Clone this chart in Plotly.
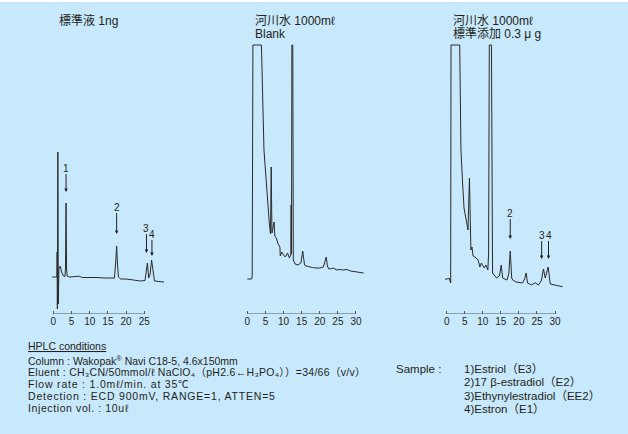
import plotly.graph_objects as go

W, H = 628, 434
BG = "#C8E9FB"
INK = "#231F20"
FONT = "Liberation Sans, Arial, Noto Sans CJK JP, sans-serif"

def wide(s, ls=0.45):
    return '<span style="letter-spacing:%spx">%s</span>' % (ls, s)

# ---- data (retention time [min], detector response [arb.]) ----
std_t = [-0.3, 0.6, 1.0, 1.05, 1.12, 1.25, 1.38, 1.55, 1.9, 2.3, 2.8, 3.2, 3.35, 3.5, 3.65, 3.8,
         4.5, 6, 7, 8, 10, 12, 14, 16, 16.8, 17.2, 17.4, 17.6, 17.9, 18.5, 20, 22, 24, 25.2,
         25.6, 25.85, 26.2, 26.6, 27.0, 27.3, 27.8, 29, 30.4]
std_v = [37, 37.5, 37, 62, 5, 162, 10, 45, 48, 42, 38, 37.5, 45, 111, 45, 38,
         37, 37.5, 37.8, 36.5, 36.8, 36.5, 36, 35.5, 36, 55, 68, 52, 37, 35, 35, 34, 33, 33.5,
         44, 51, 36, 40, 54, 44, 33, 32.5, 32]

blank_t = [0, 1.2, 1.35, 1.45, 1.55, 3.9, 4.6, 5.0, 5.5, 6.1, 6.4, 6.6, 6.8, 7.1, 7.4, 7.6, 8.0,
           8.5, 9.0, 9.1, 9.5, 10.0, 10.5, 11.1, 11.6, 12.0, 12.1, 12.2, 12.3, 12.55, 12.7,
           13.2, 14.0, 14.8, 15.3, 15.8, 16.2, 17, 18, 19, 20, 21.0, 21.5, 21.8, 22.1, 22.5,
           23.3, 24.0, 24.5, 25.5, 26.5, 27.5, 28.5, 30, 31, 32.1]
blank_v = [35, 35, 38, 110, 269, 269, 164, 144, 114, 90, 80, 147, 81, 88, 92, 78, 76,
           70, 67, 58, 62, 59, 57, 61, 56, 59, 109, 60, 269, 269, 54,
           50, 49, 51, 63, 49, 48, 47, 46.5, 46, 46, 47, 52, 57, 48, 45,
           45.5, 46, 44, 44.5, 44, 44.5, 43, 42, 41.5, 41]

spike_t = [-0.45, 0.7, 1.1, 1.2, 3.6, 3.95, 4.4, 4.8, 5.5, 5.9, 6.3, 6.7, 7.0, 7.3, 8.2, 8.7,
           9.2, 9.6, 10.4, 10.9, 11.4, 11.6, 11.8, 12.4, 12.7, 13.8, 14.6, 15.1, 15.5, 16.7,
           17.2, 17.6, 18.0, 18.3, 19.2, 21.0, 21.6, 22.0, 22.4, 23.5, 24.5, 25.4, 26.2, 26.8,
           27.3, 28.1, 28.7, 29.5, 30.5, 32.1]
spike_v = [34.7, 35.5, 31, 269, 269, 164, 131, 106, 92, 84, 136, 64, 67, 58, 56, 54,
           47, 51, 46, 49, 44, 60, 269, 269, 41, 36, 38, 49, 36, 34,
           40, 63, 36, 34, 32, 31, 35, 41, 31, 29, 31.3, 29, 33, 45,
           36, 47, 30, 29, 28.5, 27.3]

std_ticks = [0, 5, 10, 15, 20, 25]
water_ticks = [0, 5, 10, 15, 20, 25, 30]

# peak markers: (label, time, response at arrow tip, label offset px)
std_peaks = [("1", 3.5, 122, -24), ("2", 17.4, 80, -27), ("3", 25.6, 61, -25), ("4", 27.1, 58, -22)]
spike_peaks = [("2", 17.6, 75, -26), ("3", 26.3, 55, -24), ("4", 28.2, 55, -24)]

titles = [("標準液 1ng", None), ("河川水 1000mℓ", "Blank"), ("河川水 1000mℓ", "標準添加 0.3 μ g")]

conditions = [
    "Column : Wakopak<sup>®</sup> Navi C18-5, 4.6x150mm",
    wide("Eluent : CH₃CN/50mmol/ℓ NaClO₄（pH2.6←H₃PO₄））=34/66（v/v）", 0.3),
    wide("Flow rate : 1.0mℓ/min. at 35℃", 0.8),
    wide("Detection : ECD 900mV, RANGE=1, ATTEN=5", 0.8),
    wide("Injection vol. : 10uℓ", 0.6),
]
samples = ["1)Estriol（E3）", "2)17 β-estradiol（E2）", "3)Ethynylestradiol（EE2）", "4)Estron（E1）"]

# ---- layout helpers ----
def fx(p):
    return p / W

def fy(p):
    return 1 - p / H

Y_BOTTOM, Y_TOP = 314, 44
panels = [
    # (x pixel of t=0, px per min, domain left px, domain right px, ticks, title x px)
    (53.3, 3.64, 45, 175, std_ticks, 57),
    (247.3, 3.623, 240, 370, water_ticks, 253),
    (446.7, 3.61, 438, 568, water_ticks, 451),
]
series = [(std_t, std_v), (blank_t, blank_v), (spike_t, spike_v)]

fig = go.Figure()
layout = dict(
    width=W, height=H, margin=dict(l=0, r=0, t=0, b=0),
    paper_bgcolor=BG, plot_bgcolor="rgba(0,0,0,0)", showlegend=False,
    font=dict(family=FONT, color=INK),
)
shapes = [dict(type="rect", xref="paper", yref="paper", x0=0, x1=1, y0=fy(2), y1=1,
               fillcolor="white", line=dict(width=0), layer="below")]
annotations = []

def txt(text, x, y, size):
    annotations.append(dict(text=text, x=fx(x), y=fy(y), xref="paper", yref="paper",
                            xanchor="left", yanchor="middle", showarrow=False,
                            font=dict(size=size, color=INK, family=FONT)))

for i, ((x0, ppm, dl, dr, ticks, tx), (t, v), (t1, t2)) in enumerate(zip(panels, series, titles)):
    n = "" if i == 0 else str(i + 1)
    xa, ya = "x" + n, "y" + n
    fig.add_trace(go.Scatter(x=t, y=v, mode="lines", xaxis=xa, yaxis=ya,
                             line=dict(color="#2a2a2a", width=1), hoverinfo="skip"))
    layout["xaxis" + n] = dict(
        domain=[fx(dl), fx(dr)], range=[(dl - x0) / ppm, (dr - x0) / ppm],
        anchor=ya, showgrid=False, zeroline=False, showline=False,
        tickvals=ticks, ticks="inside", ticklen=3, tickcolor="#555", tickwidth=1,
        tickfont=dict(size=10, color=INK, family=FONT), fixedrange=True,
    )
    layout["yaxis" + n] = dict(
        domain=[fy(Y_BOTTOM), fy(Y_TOP)], range=[0, Y_BOTTOM - Y_TOP],
        anchor=xa, visible=False, fixedrange=True,
    )
    shapes.append(dict(type="line", xref=xa, yref=ya, x0=ticks[0], x1=ticks[-1], y0=0, y1=0,
                       line=dict(color="#555", width=1)))
    txt(t1, tx, 21, 12)
    if t2:
        txt(t2, tx, 33.5, 12)

def add_peaks(peaks, n):
    for lab, tt, vv, off in peaks:
        annotations.append(dict(
            x=tt, y=vv, xref="x" + n, yref="y" + n, text=lab, showarrow=True,
            ax=0, ay=off, arrowhead=2, arrowsize=0.7, arrowwidth=1, arrowcolor=INK,
            font=dict(size=10, color=INK), standoff=0, borderpad=0))

add_peaks(std_peaks, "")
add_peaks(spike_peaks, "3")

txt("<u>HPLC conditions</u>", 26, 346, 10.5)
for k, line in enumerate(conditions):
    txt(line, 26, 360 + k * 11.9, 10.5)

txt("Sample :", 394, 368.5, 11.5)
for k, line in enumerate(samples):
    txt(line, 462, 368.5 + k * 13.6, 11.5)

layout["shapes"] = shapes
layout["annotations"] = annotations
fig.update_layout(**layout)
fig.write_html("out.html")
